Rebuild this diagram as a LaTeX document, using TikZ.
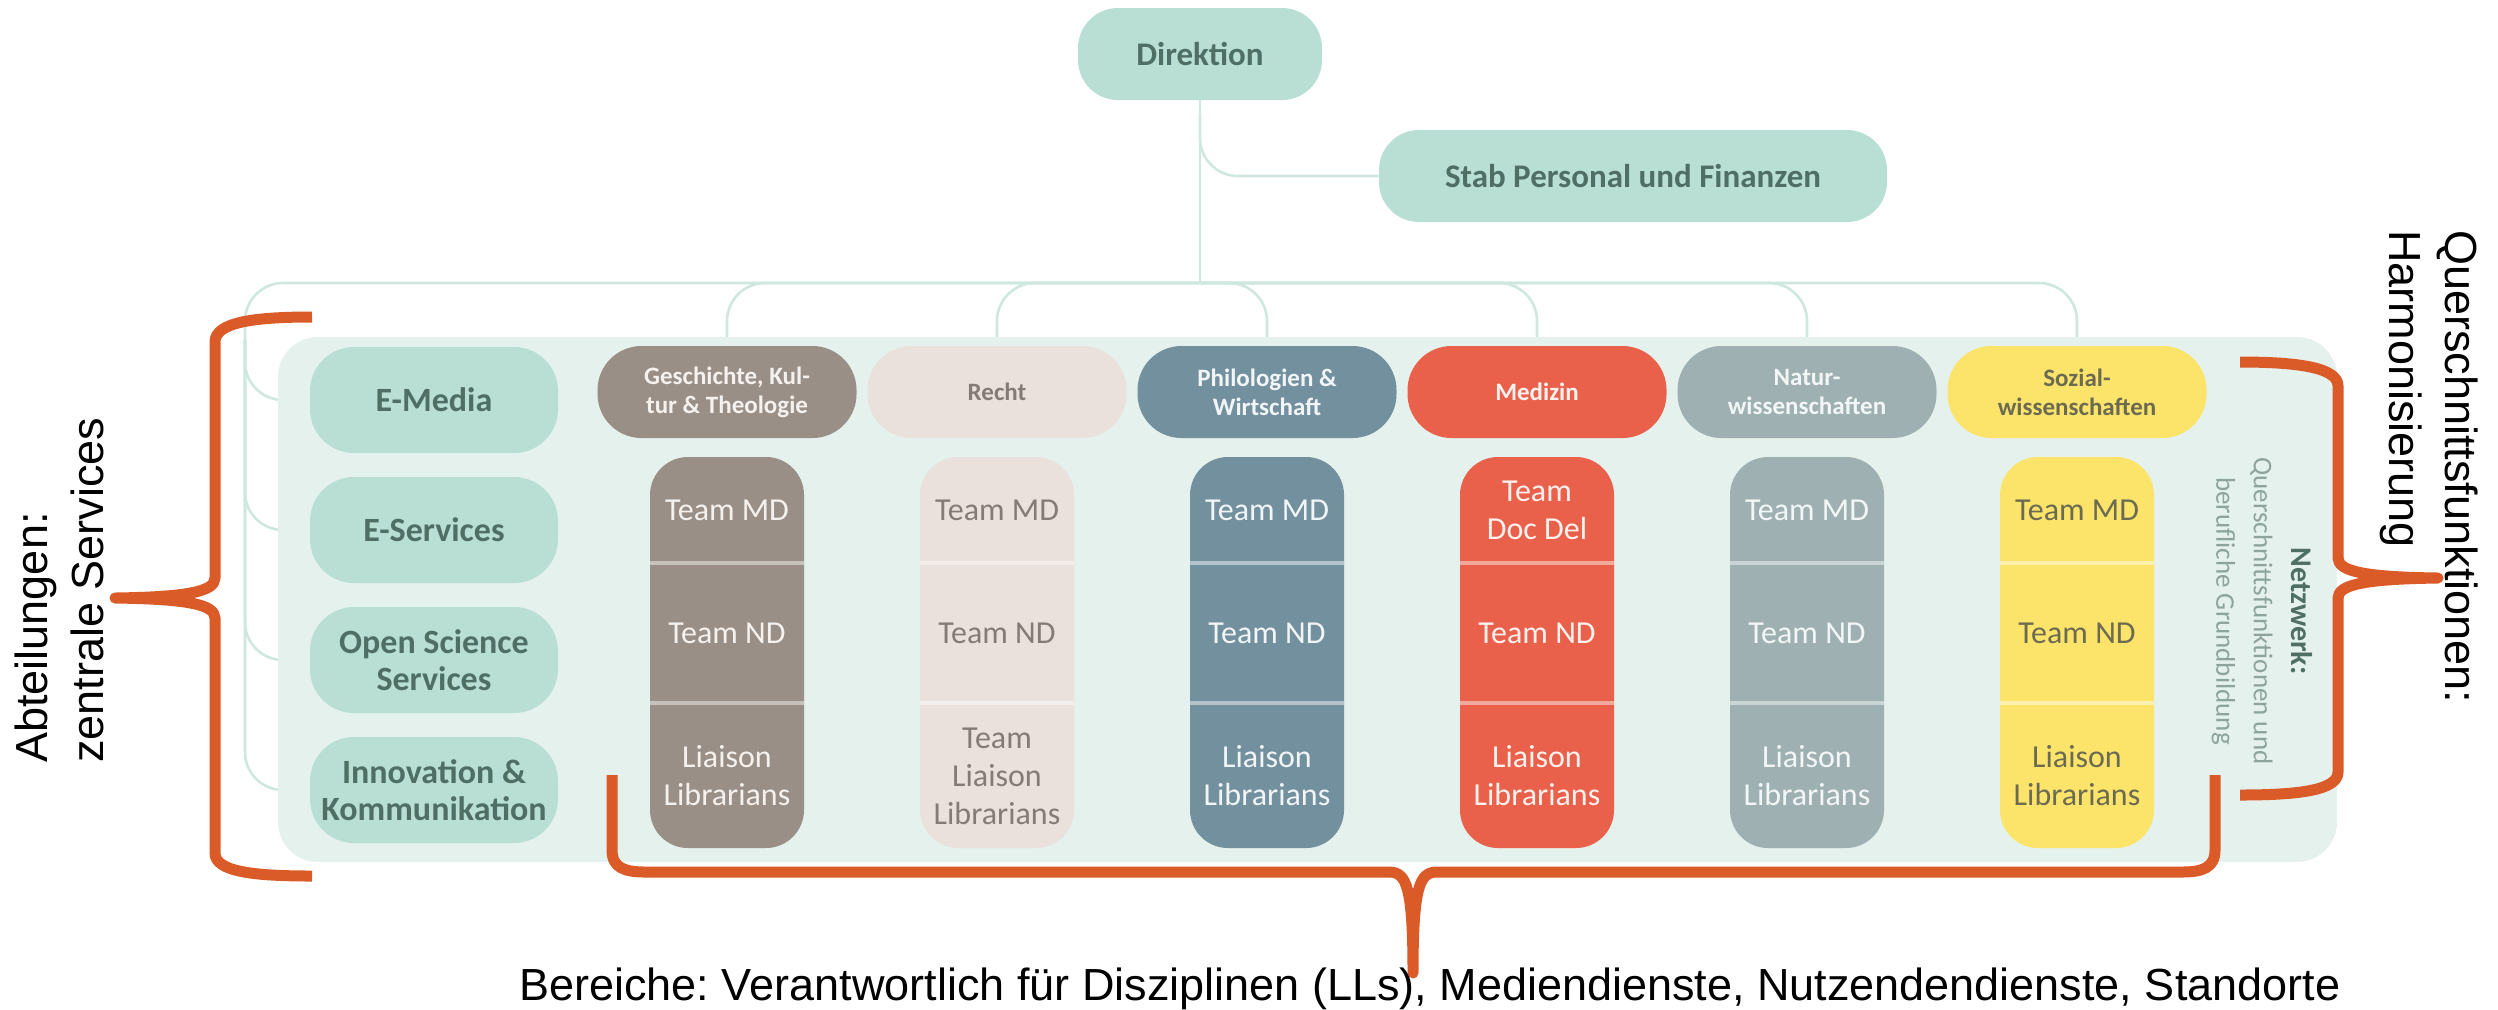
\documentclass[tikz,border=0pt]{standalone}
\usepackage{fontspec}
\setmainfont{Carlito}
\newfontfamily\annotfont{Liberation Sans}
\usetikzlibrary{backgrounds}
\frenchspacing
\definecolor{panelc}{HTML}{E4F1EC}
\definecolor{mint}{HTML}{B9DFD4}
\definecolor{tealtxt}{HTML}{4F6F65}
\definecolor{netsub}{HTML}{8DA39B}
\definecolor{connc}{HTML}{CFE8DF}
\definecolor{bracec}{HTML}{DA5B27}
\definecolor{cGe}{HTML}{9A8F86}\definecolor{cGet}{HTML}{F5F1EE}
\definecolor{cRe}{HTML}{EAE0DC}\definecolor{cRet}{HTML}{857B76}
\definecolor{cPh}{HTML}{72909E}\definecolor{cPht}{HTML}{F2F5F7}
\definecolor{cMe}{HTML}{E9604B}\definecolor{cMet}{HTML}{FFF1EE}
\definecolor{cNa}{HTML}{9FB0B2}\definecolor{cNat}{HTML}{F3F6F6}
\definecolor{cSo}{HTML}{FCE46A}\definecolor{cSot}{HTML}{6B6A52}
\tikzset{
  topbox/.style={fill=mint, rounded corners=20pt, minimum width=122pt, minimum height=46pt, inner sep=0pt,
    font=\bfseries\fontsize{16.5}{18}\selectfont, text=tealtxt},
  deptbox/.style={fill=mint, rounded corners=22pt, minimum width=124pt, minimum height=53pt, inner sep=0pt,
    align=center, font=\bfseries\fontsize{17}{18.5}\selectfont, text=tealtxt},
  catbox/.style={rounded corners=22pt, minimum width=129.5pt, minimum height=46pt, inner sep=0pt,
    align=center, font=\bfseries\fontsize{12.5}{14.5}\selectfont},
  teamcol/.style={rounded corners=19pt, minimum width=77pt, minimum height=195.5pt, inner sep=0pt},
  teamtxt/.style={align=center, inner sep=0pt, font=\fontsize{16}{19}\selectfont},
  connline/.style={draw=connc, line width=1.3pt, rounded corners=19pt},
  bracestyle/.style={draw=bracec, line width=5.5pt, line join=round},
  annot/.style={inner sep=0pt, text=black, font=\annotfont\fontsize{22.5}{28}\selectfont\frenchspacing}
}
\newcommand\discol[6]{%
  \node[catbox, fill=#2, text=#2t] (cat#1) at (#3,392) {#4};
  \node[teamcol, fill=#2] (col#1) at (#3,652.5) {};
  \draw[line width=2pt, draw=#2!55!white] (col#1.west |- 0,563) -- (col#1.east |- 0,563);
  \draw[line width=2pt, draw=#2!55!white] (col#1.west |- 0,703) -- (col#1.east |- 0,703);
  \node[teamtxt, text=#2t] (tm#1) at (#3,510) {#5};
  \node[teamtxt, text=#2t] (tn#1) at (#3,633) {Team ND};
  \node[teamtxt, text=#2t] (tl#1) at (#3,776) {#6};
}
\begin{document}
\begin{tikzpicture}[x=0.5pt,y=-0.5pt]
\useasboundingbox (0,0) rectangle (2498,1009);

% top
\node[topbox] (dir) at (1200,54) {Direktion};
\node[topbox, minimum width=254pt] (stab) at (1633,176) {Stab Personal und Finanzen};

% departments
\node[deptbox] (dept1) at (434,400) {E-Media};
\node[deptbox] (dept2) at (434,530) {E-Services};
\node[deptbox] (dept3) at (434,660) {Open Science\\Services};
\node[deptbox] (dept4) at (434,790) {Innovation \&\\Kommunikation};

% disciplines
\discol{1}{cGe}{727}{Geschichte, Kul-\\tur \& Theologie}{Team MD}{Liaison\\Librarians}
\discol{2}{cRe}{997}{Recht}{Team MD}{Team\\Liaison\\Librarians}
\discol{3}{cPh}{1267}{Philologien \&\\Wirtschaft}{Team MD}{Liaison\\Librarians}
\discol{4}{cMe}{1537}{Medizin}{Team\\Doc Del}{Liaison\\Librarians}
\discol{5}{cNa}{1807}{Natur-\\wissenschaften}{Team MD}{Liaison\\Librarians}
\discol{6}{cSo}{2077}{Sozial-\\wissenschaften}{Team MD}{Liaison\\Librarians}

% network text
\node[rotate=-90, align=center, inner sep=0pt, text=netsub, font=\fontsize{13.5}{18.75}\selectfont] (netz) at (2262,611)
  {{\color{tealtxt}\bfseries\fontsize{15}{18.75}\selectfont Netzwerk:}\\Querschnittsfunktionen und\\berufliche Grundbildung};

\begin{pgfonlayer}{background}
  \draw[connline] (dir.south) -- (dir.south |- 0,283);
  \draw[connline] (stab.west) -| (dir.south |- 0,115);
  \draw[connline] (cat1.north) |- (dir.south |- 0,283);
  \draw[connline] (cat2.north) |- (dir.south |- 0,283);
  \draw[connline] (cat3.north) |- (dir.south |- 0,283);
  \draw[connline] (cat4.north) |- (dir.south |- 0,283);
  \draw[connline] (cat5.north) |- (dir.south |- 0,283);
  \draw[connline] (cat6.north) |- (245,283) |- (dept4.west);
  \coordinate (lv) at (245,340);
  \draw[connline] (dept1.west) -| (lv);
  \draw[connline] (dept2.west) -| (lv);
  \draw[connline] (dept3.west) -| (lv);
  \fill[panelc, rounded corners=20pt] (278,337) rectangle (2337,862);
\end{pgfonlayer}

% braces
\draw[bracestyle] (312,317) .. controls (255,317) and (215,322) .. (215,342) -- (215,578)
  .. controls (215,592) and (185,597) .. (115,598) .. controls (185,599) and (215,604) .. (215,618)
  -- (215,853) .. controls (215,872) and (255,876) .. (312,876);
\draw[bracestyle] (2240,362) .. controls (2300,362) and (2338,368) .. (2338,386) -- (2338,558)
  .. controls (2338,572) and (2368,577) .. (2438,578) .. controls (2368,579) and (2338,584) .. (2338,598)
  -- (2338,772) .. controls (2338,790) and (2300,795) .. (2240,795);
\draw[bracestyle] (612,775) -- (612,850) .. controls (612,868) and (625,872) .. (645,872) -- (1390,872)
  .. controls (1406,873) and (1413,885) .. (1413,973) .. controls (1413,885) and (1420,873) .. (1436,872)
  -- (2182,872) .. controls (2202,872) and (2215,868) .. (2215,850) -- (2215,775);

% annotations
\node[annot, rotate=90, align=left, anchor=south west] (labL) at (104,763) {Abteilungen:\\zentrale Services};
\node[annot, rotate=-90, align=left, anchor=north west] (labR) at (2478,230) {Querschnittsfunktionen:\\Harmonisierung};
\node[annot, anchor=base west] (labB) at (519,1000) {Bereiche: Verantwortlich für Disziplinen (LLs), Mediendienste, Nutzendendienste, Standorte};
\end{tikzpicture}
\end{document}
